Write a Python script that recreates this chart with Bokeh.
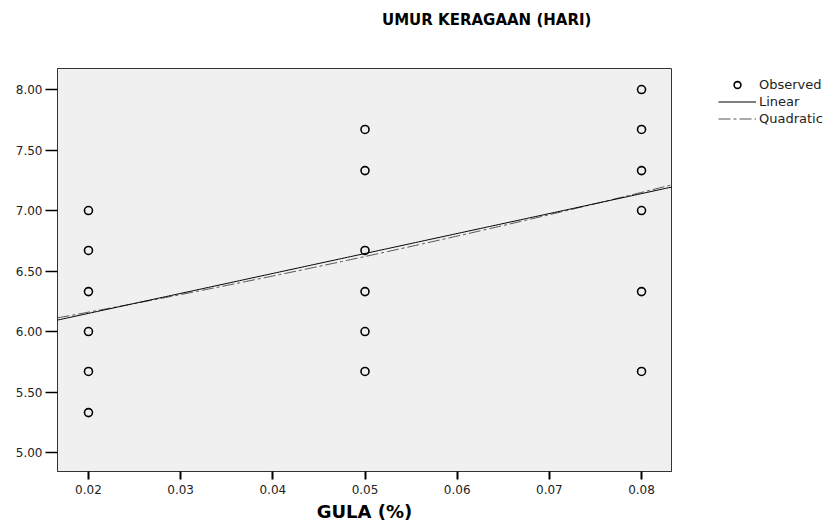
import numpy as np
from bokeh.plotting import figure
from bokeh.layouts import row, column
from bokeh.models import Range1d, PrintfTickFormatter, FixedTicker, Legend, LegendItem, Div
from bokeh.embed import file_html
from bokeh.resources import INLINE

# Observed data
gula = [0.02] * 6 + [0.05] * 6 + [0.08] * 6
umur = [5.33, 5.67, 6.00, 6.33, 6.67, 7.00,
        5.67, 6.00, 6.33, 6.67, 7.33, 7.67,
        5.67, 6.33, 7.00, 7.33, 7.67, 8.00]

# Fitted values
linear_x = [0.02, 0.08]
linear_y = [6.15, 7.14]
quad_x = [0.02, 0.05, 0.08]
quad_y = [6.16, 6.62, 7.15]

x_ticks = [0.02, 0.03, 0.04, 0.05, 0.06, 0.07, 0.08]
y_ticks = [5.00, 5.50, 6.00, 6.50, 7.00, 7.50, 8.00]

title_text = "UMUR KERAGAAN (HARI)"
x_label = "GULA (%)"
legend_labels = ["Observed", "Linear", "Quadratic"]

x_lo, x_hi = 0.01664, 0.08325
y_lo, y_hi = 4.843, 8.174

FONT = "DejaVu Sans"
QUAD_DASH = "12 3 3 3"

title_div = Div(text=title_text, width=820, height=30, margin=0,
                styles={"padding-left": "382px", "padding-top": "12px",
                        "font-family": FONT, "font-weight": "bold", "font-size": "15px",
                        "line-height": "17px", "white-space": "nowrap", "color": "black"})

p = figure(frame_width=614, frame_height=403, output_backend="svg", toolbar_location=None,
           x_range=Range1d(x_lo, x_hi), y_range=Range1d(y_lo, y_hi),
           min_border_left=57, min_border_right=5, min_border_top=38, min_border_bottom=47)
p.background_fill_color = "#f0f0f0"
p.border_fill_color = "white"
p.outline_line_color = "#333333"
p.outline_line_width = 1
p.grid.visible = False
p.title.visible = False

for ax in (p.xaxis[0], p.yaxis[0]):
    ax.axis_line_color = "#333333"
    ax.major_tick_line_color = "black"
    ax.major_tick_line_width = 2
    ax.major_tick_in = 0
    ax.minor_tick_line_color = None
    ax.major_label_text_font = FONT
    ax.major_label_text_font_size = "12px"
    ax.major_label_text_color = "#222222"
    ax.formatter = PrintfTickFormatter(format="%.2f")

p.xaxis[0].ticker = FixedTicker(ticks=x_ticks)
p.yaxis[0].ticker = FixedTicker(ticks=y_ticks)
p.xaxis[0].major_tick_out = 8
p.xaxis[0].major_label_standoff = 5
p.yaxis[0].major_tick_out = 12
p.yaxis[0].major_label_standoff = 3
p.yaxis[0].major_tick_line_width = 1.5
p.xaxis[0].axis_label = x_label
p.xaxis[0].axis_label_text_font = FONT
p.xaxis[0].axis_label_text_font_style = "bold"
p.xaxis[0].axis_label_text_font_size = "18px"
p.xaxis[0].axis_label_text_color = "black"
p.xaxis[0].axis_label_standoff = 4

# Fit curves across the full axis range
xs = np.linspace(x_lo, x_hi, 200)
lin_coef = np.polyfit(linear_x, linear_y, 1)
quad_coef = np.polyfit(quad_x, quad_y, 2)

p.line(xs, np.polyval(quad_coef, xs), line_color="#555555", line_width=1, line_dash=QUAD_DASH)
p.line(xs, np.polyval(lin_coef, xs), line_color="black", line_width=1)
p.scatter(gula, umur, marker="circle", size=8, fill_color=None,
          line_color="black", line_width=1.6)

# Legend panel to the right of the chart (its renderers lie outside its visible range,
# only their legend glyphs show)
lg = figure(width=148, height=488, output_backend="svg", toolbar_location=None,
            x_range=Range1d(0, 1), y_range=Range1d(0, 1), min_border=0)
lg.axis.visible = False
lg.grid.visible = False
lg.outline_line_color = None
lg.background_fill_color = "white"
lg.border_fill_color = "white"
lg_obs = lg.scatter(gula, umur, marker="circle", size=9, fill_color=None,
                    line_color="black", line_width=1.6)
lg_lin = lg.line(linear_x, linear_y, line_color="black", line_width=1)
lg_quad = lg.line(quad_x, quad_y, line_color="#555555", line_width=1, line_dash=QUAD_DASH)

legend = Legend(items=[LegendItem(label=legend_labels[0], renderers=[lg_obs]),
                       LegendItem(label=legend_labels[1], renderers=[lg_lin]),
                       LegendItem(label=legend_labels[2], renderers=[lg_quad])],
                location=(42, 338), background_fill_alpha=0, border_line_color=None,
                padding=0, margin=0, spacing=0, label_height=17, glyph_height=17,
                glyph_width=38, label_standoff=3,
                label_text_font=FONT, label_text_font_size="13px", label_text_color="#222222")
lg.add_layout(legend, "center")

layout = column(title_div, row(p, lg, spacing=0), spacing=0)
open("out.html", "w").write(file_html(layout, INLINE))
